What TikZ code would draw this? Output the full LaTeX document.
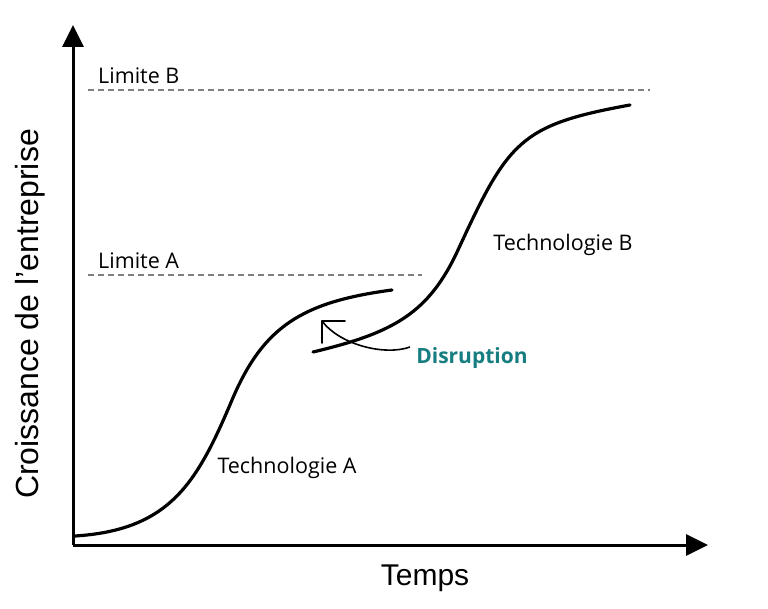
\documentclass[tikz,border=0pt]{standalone}
\usepackage{fontspec}
\setmainfont{Open Sans}
\newfontfamily\axisfont{Liberation Sans}
\usetikzlibrary{%
  arrows.meta,%
  positioning%
}
\definecolor{disruptteal}{RGB}{22,125,128}

\begin{document}
\begin{tikzpicture}[
    x=1pt,y=-1pt,
    axis/.style={line width=3pt,-{Triangle[length=22pt,width=21pt]}},
    scurve/.style={line width=3.2pt,line cap=round,line join=round},
    limit/.style={draw=gray,line width=1.2pt,dash pattern=on 6pt off 4pt},
    label/.style={font=\fontsize{21.5}{26}\selectfont,inner sep=0pt},
    axislabel/.style={font=\axisfont\fontsize{30}{36}\selectfont,inner sep=0pt}
  ]
    \useasboundingbox (0,0) rectangle (768,609);

    % axes
    \coordinate (origin) at (73,545);
    \coordinate (yend)   at (73,25);
    \coordinate (xend)   at (708,545);
    \draw [axis] (origin) -- (yend);
    \draw [axis] (origin) -- (xend);
    \node (temps) [axislabel] at (425,578) {Temps};
    \node (growth) [axislabel,font=\axisfont\fontsize{32}{36}\selectfont,
        rotate=90] at (30,314) {Croissance de l’entreprise};

    % limits
    \coordinate (limB start) at (88,90);
    \coordinate (limB end)   at (650,90);
    \coordinate (limA start) at (88,275);
    \coordinate (limA end)   at (422,275);
    \draw [limit] (limB start) -- (limB end);
    \draw [limit] (limA start) -- (limA end);
    \node (limB) [label,anchor=south west] at (98,84) {Limite B};
    \node (limA) [label,anchor=south west] at (98,269) {Limite A};

    % S-curves
    \draw [scurve] (75,536)
        .. controls (170,530) and (197,483) .. (232,400)
        .. controls (263.2,326.4) and (302,302) .. (392,290);
    \draw [scurve] (313,352)
        .. controls (393,333) and (428.6,313.7) .. (458,250)
        .. controls (508.4,140.8) and (520,125) .. (630,105);
    \node (techA) [label] at (287,468) {Technologie A};
    \node (techB) [label] at (563,245) {Technologie B};

    % disruption
    \coordinate (dis start) at (410,347);
    \coordinate (dis tip)   at (322,321);
    \draw [line width=1.6pt] (dis start)
        .. controls (385,356) and (340,345) .. (dis tip);
    \draw [line width=1.6pt,line cap=round] (dis tip) -- ++(23,0);
    \draw [line width=1.6pt,line cap=round] (dis tip) -- ++(0,22);
    \node (disruption) [label,font=\bfseries\fontsize{21}{25}\selectfont,
        text=disruptteal] at (472,358) {Disruption};
\end{tikzpicture}
\end{document}
